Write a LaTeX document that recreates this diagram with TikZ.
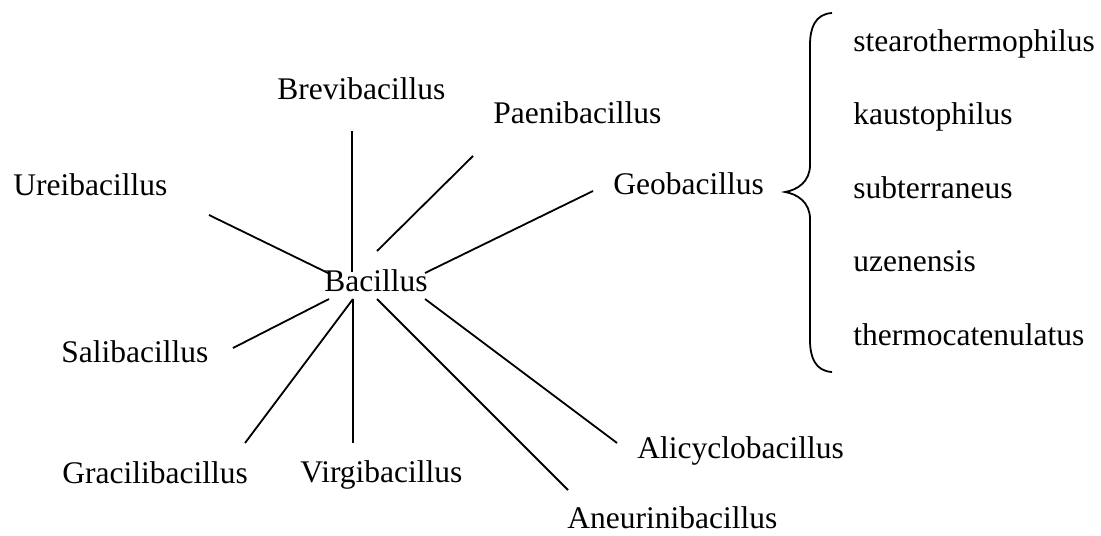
\documentclass[tikz,border=0pt]{standalone}
\usepackage{fontspec}
\setmainfont{Liberation Serif}

\begin{document}
\begin{tikzpicture}[x=0.5pt,y=-0.5pt,
  genus/.style={anchor=base west,inner sep=0pt,font=\fontsize{15.75}{18}\selectfont},
  spoke/.style={line width=0.9pt}]
  \useasboundingbox (0,0) rectangle (1101,535);
  % genera
  \node[genus] (bac) at (324,291) {Bacillus};
  \node[genus] (brev) at (277,99) {Brevibacillus};
  \node[genus] (paeni) at (493,123) {Paenibacillus};
  \node[genus] (urei) at (13,195) {Ureibacillus};
  \node[genus] (geo) at (613,194) {Geobacillus};
  \node[genus] (sali) at (61,362) {Salibacillus};
  \node[genus] (graci) at (62,483) {Gracilibacillus};
  \node[genus] (virgi) at (300,482) {Virgibacillus};
  \node[genus] (alicy) at (637,458) {Alicyclobacillus};
  \node[genus] (aneu) at (567,528) {Aneurinibacillus};
  % species of Geobacillus
  \node[genus] (stea) at (853,52) {stearothermophilus};
  \node[genus] (kaus) at (853,125) {kaustophilus};
  \node[genus] (subt) at (853,198) {subterraneus};
  \node[genus] (uzen) at (853,271) {uzenensis};
  \node[genus] (therm) at (853,345) {thermocatenulatus};
  % spoke ends
  \coordinate (brev-in) at (352,272);  \coordinate (brev-out) at (352,131);
  \coordinate (urei-in) at (328,273);  \coordinate (urei-out) at (209,215);
  \coordinate (paeni-in) at (377,251); \coordinate (paeni-out) at (473,156);
  \coordinate (geo-in) at (425,273);   \coordinate (geo-out) at (593,191);
  \coordinate (sali-in) at (329,299);  \coordinate (sali-out) at (233,348);
  \coordinate (graci-in) at (353,299); \coordinate (graci-out) at (245,443);
  \coordinate (virgi-in) at (353,299); \coordinate (virgi-out) at (353,443);
  \coordinate (aneu-in) at (377,299);  \coordinate (aneu-out) at (568,490);
  \coordinate (alicy-in) at (425,299); \coordinate (alicy-out) at (617,443);
  \draw[spoke] (brev-in) -- (brev-out);
  \draw[spoke] (urei-in) -- (urei-out);
  \draw[spoke] (paeni-in) -- (paeni-out);
  \draw[spoke] (geo-in) -- (geo-out);
  \draw[spoke] (sali-in) -- (sali-out);
  \draw[spoke] (graci-in) -- (graci-out);
  \draw[spoke] (virgi-in) -- (virgi-out);
  \draw[spoke] (aneu-in) -- (aneu-out);
  \draw[spoke] (alicy-in) -- (alicy-out);
  % brace
  \coordinate (tip) at (785,192);
  \draw[spoke] (832,13) .. controls (815,14) and (810,28) .. (810,45)
    -- (810,165) .. controls (810,182) and (797,190) .. (tip)
    .. controls (797,194) and (810,202) .. (810,219)
    -- (810,340) .. controls (810,357) and (815,371) .. (832,372);
\end{tikzpicture}
\end{document}
